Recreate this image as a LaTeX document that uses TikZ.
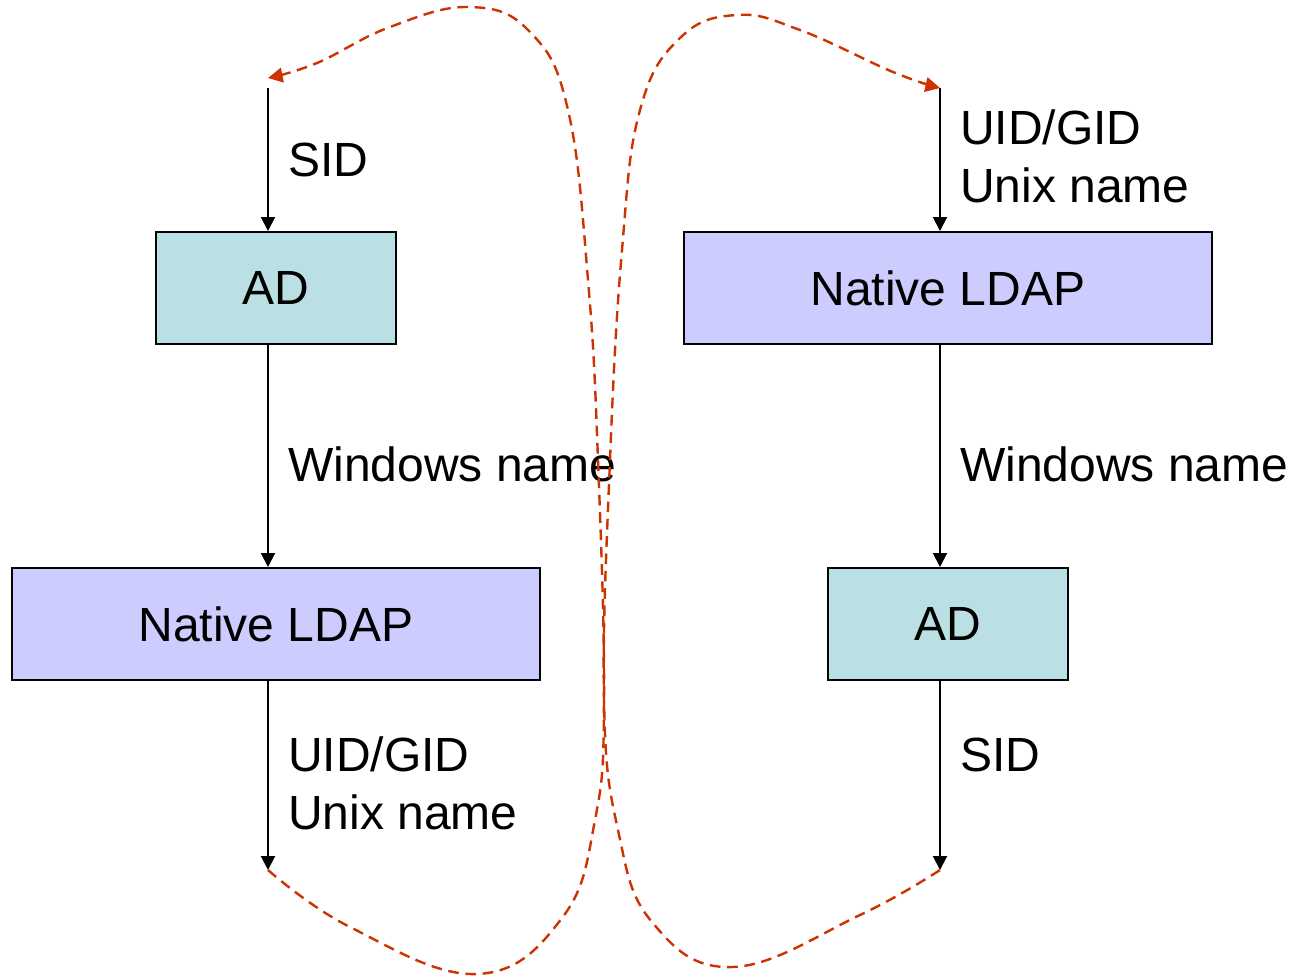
\documentclass[tikz,border=0pt]{standalone}
\usepackage{fontspec}
\setmainfont{Liberation Sans}
\usetikzlibrary{arrows.meta}
\definecolor{adfill}{RGB}{187,224,227}
\definecolor{ldapfill}{RGB}{204,204,255}
\definecolor{dashred}{RGB}{204,51,0}
\begin{document}
\begin{tikzpicture}[x=0.75pt,y=-0.75pt,
  box/.style={draw=black,line width=1.5pt,minimum height=84pt,inner sep=0pt,
    font=\fontsize{36}{43}\selectfont},
  adbox/.style={box,fill=adfill,minimum width=180pt},
  ldapbox/.style={box,fill=ldapfill,minimum width=396pt},
  lbl/.style={anchor=base west,inner sep=0pt,font=\fontsize{36}{43}\selectfont},
  flow/.style={line width=1.5pt,-{Triangle[width=10.5pt,length=10.5pt]}},
  loop/.style={draw=dashred,line width=1.8pt,dash pattern=on 8pt off 5pt,
    -{Triangle[width=11pt,length=11pt,fill=dashred]}}]
\useasboundingbox (0,0) rectangle (1292,976);

% left column
\node[adbox] (ad1) at (276,288) {AD};
\node[ldapbox] (ld1) at (276,624) {Native LDAP};
\coordinate (l0) at (268,88);
\coordinate (l3) at (268,870);
\coordinate (lt) at (268,78);
\draw[flow] (l0) -- (l0 |- ad1.north);
\draw[flow] (l0 |- ad1.south) -- (l0 |- ld1.north);
\draw[flow] (l0 |- ld1.south) -- (l3);
\node[lbl] (s1) at (288,176) {SID};
\node[lbl] (w1) at (288,481) {Windows name};
\node[lbl] (u1) at (288,771) {UID/GID};
\node[lbl] (n1) at (288,829) {Unix name};

% right column
\node[ldapbox] (ld2) at (948,288) {Native LDAP};
\node[adbox] (ad2) at (948,624) {AD};
\coordinate (r0) at (940,88);
\coordinate (r3) at (940,870);
\draw[flow] (r0) -- (r0 |- ld2.north);
\draw[flow] (r0 |- ld2.south) -- (r0 |- ad2.north);
\draw[flow] (r0 |- ad2.south) -- (r3);
\node[lbl] (u2) at (960,144) {UID/GID};
\node[lbl] (n2) at (960,202) {Unix name};
\node[lbl] (w2) at (960,481) {Windows name};
\node[lbl] (s2) at (960,771) {SID};

% dashed loops
\draw[loop] plot[smooth,tension=0.7] coordinates {(l3) (350,927) (477,974) (562,918) (595,820) (604,700) (598,460) (588,280) (568,110) (530,32) (470,7) (390,27) (317,63) (lt)};
\draw[loop] plot[smooth,tension=0.7] coordinates {(r3) (860,915) (733,967) (652,922) (618,830) (604,700) (610,460) (622,250) (640,110) (680,38) (737,15) (800,30) (893,72) (r0)};
\end{tikzpicture}
\end{document}
